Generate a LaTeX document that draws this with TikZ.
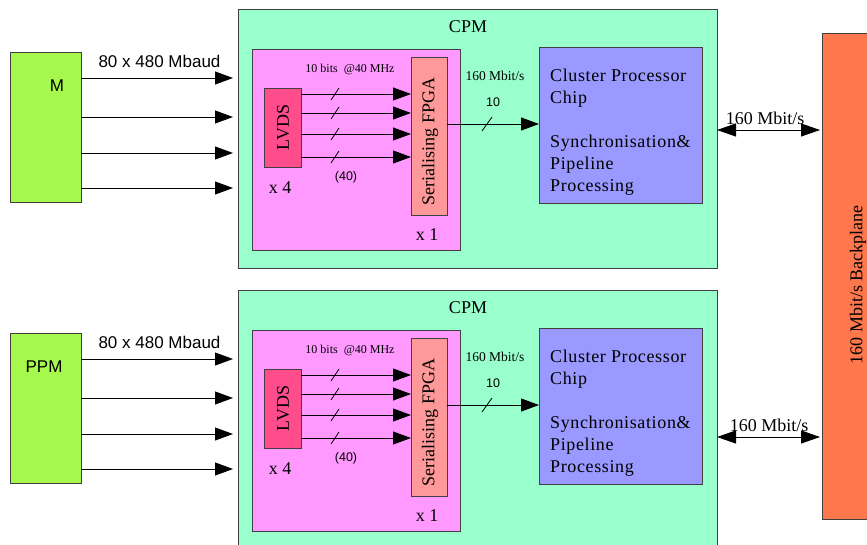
\documentclass[tikz,border=0pt]{standalone}
\usepackage{fontspec}
\setmainfont{Liberation Serif}
\setsansfont{Liberation Sans}
\newfontfamily\cpfont[LetterSpace=3.5]{Liberation Serif}
\usetikzlibrary{arrows.meta}
\definecolor{mgreen}{HTML}{A6F94C}
\definecolor{cpmgreen}{HTML}{99FFCC}
\definecolor{pinkbox}{HTML}{FF99FF}
\definecolor{lvdscol}{HTML}{FF4D8C}
\definecolor{fpgacol}{HTML}{FF9999}
\definecolor{cpcol}{HTML}{9999FF}
\definecolor{bpcol}{HTML}{FF774D}
\newcommand{\myfs}[2]{\fontsize{#1}{#2}\selectfont}
\begin{document}
\begin{tikzpicture}[x=1pt,y=-1pt,
  box/.style={draw=black!75, line width=0.8pt, inner sep=0pt, outer sep=0pt, anchor=north west},
  arr/.style={line width=0.9pt, -{Triangle[length=18pt,width=13pt]}},
  darr/.style={line width=0.9pt, {Triangle[length=19pt,width=13pt]}-{Triangle[length=19pt,width=13pt]}},
  slash/.style={line width=0.8pt},
  stxt/.style={font=\sffamily\myfs{17}{20}, inner sep=0pt},
  ssmall/.style={font=\sffamily\myfs{12.5}{15}, inner sep=0pt},
  rtxt/.style={font=\myfs{18}{22}, inner sep=0pt},
  rsmall/.style={font=\myfs{12}{14}, inner sep=0pt}]
\clip (0,0) rectangle (867,544);
\useasboundingbox (0,0) rectangle (867,544);
% backplane
\node[box, fill=bpcol, minimum width=60pt, minimum height=486pt] (bp) at (822,33) {};
\node[rtxt, rotate=90] (bptxt) at (858,285) {160 Mbit/s Backplane};
\foreach \s/\dy/\lab/\lx/\dby/\dlx in {a/0/M/57/130/765, b/281/PPM/44/156/769} {
\begin{scope}[yshift=-\dy pt]
  \node[box, fill=mgreen, minimum width=71pt, minimum height=150pt] (src\s) at (10,52) {};
  \node[stxt] (srclab\s) at (\lx,86) {\lab};
  \node[box, fill=cpmgreen, minimum width=479pt, minimum height=259pt] (cpm\s) at (238,9) {};
  \node[rtxt] (cpmlab\s) at (468,27) {CPM};
  \node[box, fill=pinkbox, minimum width=208pt, minimum height=201pt] (pink\s) at (252,49) {};
  \node[box, fill=fpgacol, minimum width=36pt, minimum height=158pt] (fpga\s) at (411,57) {};
  \node[rtxt, rotate=90] (fpgalab\s) at (430,141.5) {Serialising FPGA};
  \node[box, fill=lvdscol, minimum width=37pt, minimum height=79pt] (lvds\s) at (264,88) {};
  \node[rtxt, rotate=90] (lvdslab\s) at (283,127.5) {LVDS};
  \node[box, fill=cpcol, minimum width=163pt, minimum height=156pt] (cp\s) at (539,47) {};
  \node[rtxt, font=\cpfont\myfs{18}{22}, anchor=north west, align=left] (cptxt\s) at (550,68.5)
    {Cluster Processor\\Chip\\[22pt]Synchronisation\&\\Pipeline\\Processing};
  % labels
  \node[stxt] (baud\s) at (159.5,61) {80 x 480 Mbaud};
  \node[rsmall] (bits\s) at (350,69) {10 bits \ @40 MHz};
  \node[ssmall] (forty\s) at (346,177) {(40)};
  \node[rtxt] (x4\s) at (280,188) {x 4};
  \node[rtxt] (x1\s) at (427,235) {x 1};
  \node[font=\myfs{13.5}{16}, inner sep=0pt] (rate\s) at (495,76) {160 Mbit/s};
  \node[ssmall] (ten\s) at (493,102) {10};
  % input arrows
  \foreach \yy in {78,117,153,188} {
    \draw[arr, shorten >=5pt] (src\s.east |- 0,\yy) -- (cpm\s.west |- 0,\yy);
  }
  % LVDS to FPGA
  \foreach \yy in {94,113,134,157} {
    \draw[arr] (lvds\s.east |- 0,\yy) -- (fpga\s.west |- 0,\yy);
    \draw[slash] (331,\yy+6) -- (339,\yy-6);
  }
  % FPGA to CP
  \draw[arr] (fpga\s.east |- 0,124) -- (cp\s.west |- 0,124);
  \draw[slash] (482,131) -- (492,117);
  % CPM to backplane
  \draw[darr, shorten >=2pt] (cpm\s.east |- 0,\dby) -- (bp.west |- 0,\dby);
  \node[rtxt] (bprate\s) at (\dlx,\dby-12) {160 Mbit/s};
\end{scope}
}
\end{tikzpicture}
\end{document}
